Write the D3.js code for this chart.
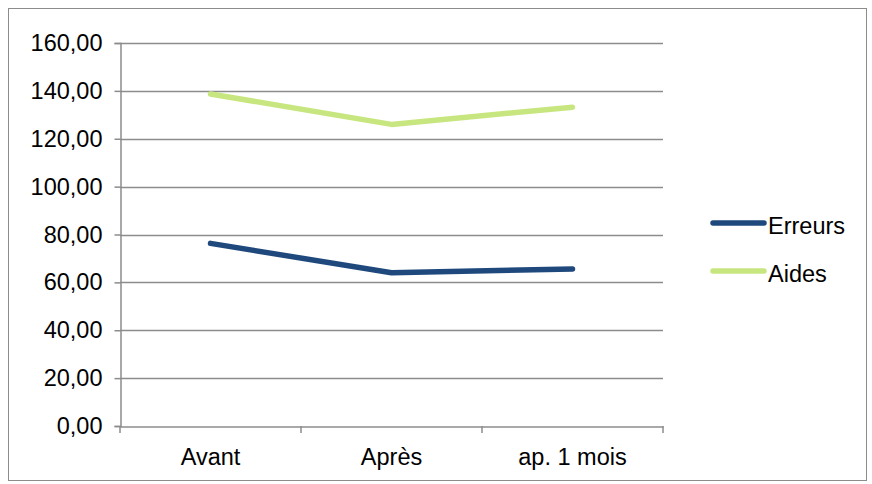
<!DOCTYPE html>
<html><head><meta charset="utf-8">
<script src="https://cdn.jsdelivr.net/npm/d3@7"></script>
<style>body{margin:0;background:#fff}svg{display:block}</style>
</head><body>
<svg id="c" width="872" height="484"></svg>
<script>
const categories = ["Avant", "Après", "ap. 1 mois"];
const erreurs = [76.3, 64.0, 65.6];
const aides = [138.7, 126.0, 133.2];
const seriesNames = ["Erreurs", "Aides"];
const seriesColors = ["#1f497d", "#c8e67f"];
const yTicks = [0, 20, 40, 60, 80, 100, 120, 140, 160];

(function () {
const svg = d3.select("#c");
const font = "'Liberation Sans', Arial, sans-serif";
const fs = 23.5;
svg.append("rect").attr("x", 8.5).attr("y", 8.5).attr("width", 858).attr("height", 472)
  .attr("fill", "#fff").attr("stroke", "#8c8c8c").attr("stroke-width", 1);

const pLeft = 120, pRight = 663, pTop = 43, pBottom = 426;
const x = d3.scaleBand().domain(categories).range([pLeft, pRight]);
const y = d3.scaleLinear().domain([0, 160]).range([pBottom, pTop]);
const fmt = v => d3.format(".2f")(v).replace(".", ",");

// gridlines
svg.append("g").selectAll("line").data(yTicks.filter(d => d > 0)).join("line")
  .attr("x1", pLeft).attr("x2", pRight)
  .attr("y1", d => Math.round(y(d)) + 0.5).attr("y2", d => Math.round(y(d)) + 0.5)
  .attr("stroke", "#8c8c8c").attr("stroke-width", 1.5);

// y axis
const ya = svg.append("g").attr("transform", `translate(${pLeft + 0.5},0)`)
  .call(d3.axisLeft(y).tickValues(yTicks).tickFormat(fmt).tickSize(6).tickPadding(12));
ya.select(".domain").attr("stroke", "#8c8c8c").attr("stroke-width", 1.5);
ya.selectAll(".tick line").attr("stroke", "#8c8c8c").attr("stroke-width", 1.5);
ya.selectAll("text").attr("font-family", font).attr("font-size", fs).attr("fill", "#000");

// x axis
const xa = svg.append("g").attr("transform", `translate(0,${pBottom + 0.5})`)
  .call(d3.axisBottom(x).tickSize(0).tickPadding(22));
xa.select(".domain").attr("stroke", "#8c8c8c").attr("stroke-width", 1.5);
xa.selectAll("text").attr("font-family", font).attr("font-size", fs).attr("fill", "#000");
// category boundary ticks
const bounds = categories.map(c => x(c)).concat([x.range()[1]]);
svg.append("g").selectAll("line").data(bounds).join("line")
  .attr("x1", d => d).attr("x2", d => d).attr("y1", pBottom).attr("y2", pBottom + 7)
  .attr("stroke", "#8c8c8c").attr("stroke-width", 1.5);

// lines
const series = [erreurs, aides];
const line = d3.line().x((d, i) => x(categories[i]) + x.bandwidth() / 2).y(d => y(d));
series.forEach((s, k) => {
  svg.append("path").datum(s).attr("d", line).attr("fill", "none")
    .attr("stroke", seriesColors[k]).attr("stroke-width", 5.5)
    .attr("stroke-linecap", "round").attr("stroke-linejoin", "round");
});

// legend
const lg = svg.append("g");
seriesNames.forEach((n, k) => {
  const ly = 223 + k * 48;
  lg.append("line").attr("x1", 713).attr("x2", 764).attr("y1", ly).attr("y2", ly)
    .attr("stroke", seriesColors[k]).attr("stroke-width", 5.5).attr("stroke-linecap", "round");
  lg.append("text").attr("x", 768).attr("y", ly + 11).text(n)
    .attr("font-family", font).attr("font-size", fs).attr("fill", "#000");
});
})();
</script>
</body></html>
